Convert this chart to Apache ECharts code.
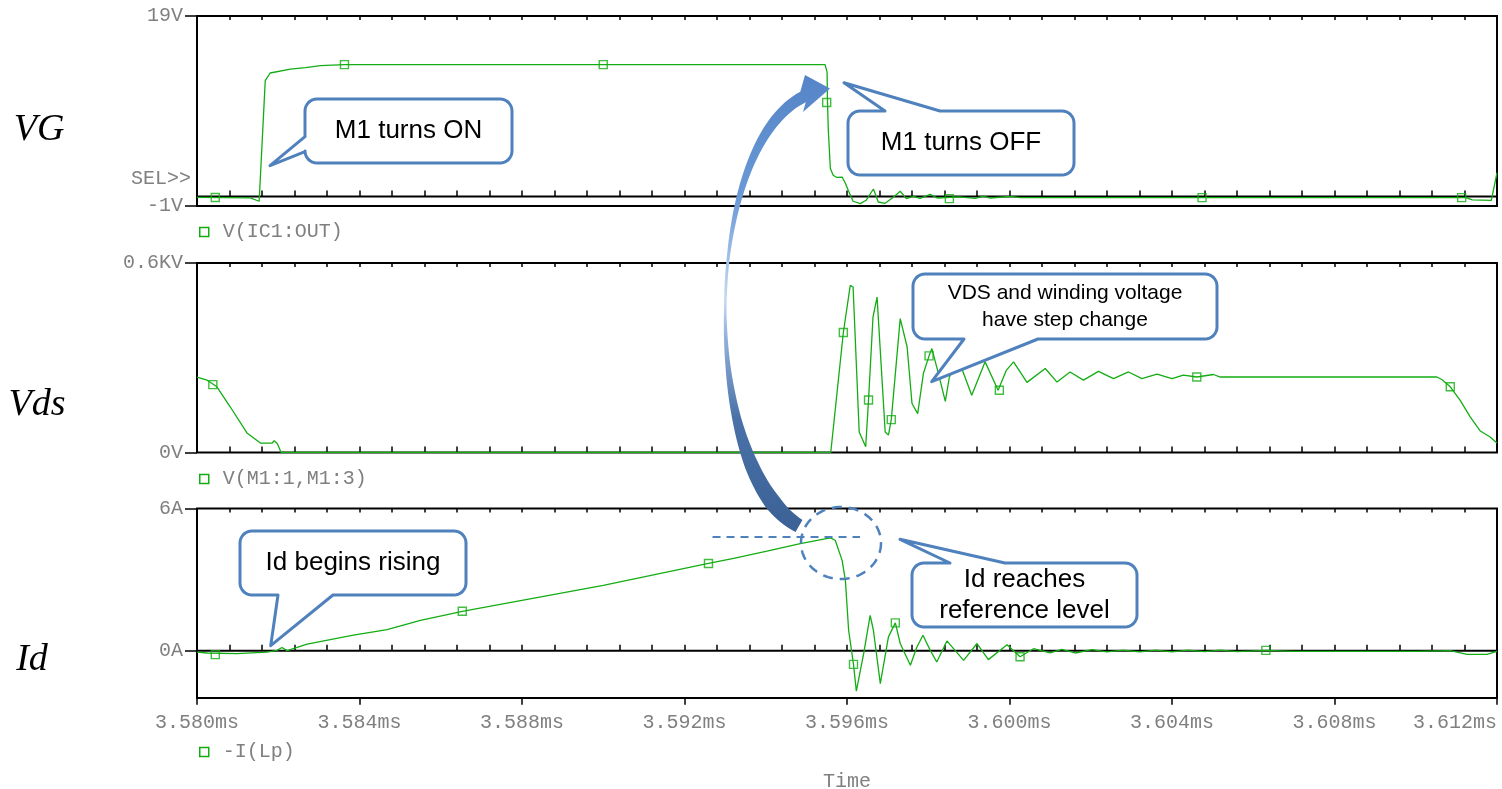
<!DOCTYPE html>
<html>
<head>
<meta charset="utf-8">
<script src="https://cdn.jsdelivr.net/npm/echarts@6/dist/echarts.min.js"></script>
<style>
  html, body { margin: 0; padding: 0; background: #fff; }
  #chart { width: 1502px; height: 789px; }
</style>
</head>
<body>
<div id="chart"></div>
<script>
// Time values are in microseconds; axis labels show them as ms.
const timeMin = 3580;
const timeMax = 3612;
const timeStep = 4;

const traceNames = ['V(IC1:OUT)', 'V(M1:1,M1:3)', '-I(Lp)'];
const panelNames = ['VG', 'Vds', 'Id'];

const vgTicks = [-1, 19];
const vdsTicks = [0, 600];
const idTicks = [0, 6];

// Gate voltage, V
const vgWave = [
  [3580.00,-0.10],[3581.31,-0.15],[3581.53,-0.50],[3581.68,12.2],[3581.80,13.0],[3582.30,13.4],
  [3582.67,13.57],[3583.04,13.78],[3583.63,13.88],[3595.46,13.88],[3595.51,13.1],[3595.52,9.9],
  [3595.54,7.0],[3595.59,2.94],[3595.66,2.23],[3595.74,2.02],[3595.88,2.05],[3595.96,1.39],
  [3596.03,0.65],[3596.15,-0.50],[3596.33,-0.75],[3596.47,-0.40],[3596.65,0.79],[3596.77,-0.58],
  [3596.94,-0.72],[3597.14,-0.08],[3597.31,0.55],[3597.46,-0.22],[3597.63,0.02],[3597.80,-0.19],
  [3598.05,0.23],[3598.22,-0.16],[3598.75,-0.05],[3599.16,-0.19],[3599.35,0.05],[3599.53,-0.16],
  [3600.02,0.02],[3600.26,-0.12],[3611.24,-0.12],[3611.39,-0.35],[3611.86,-0.40],[3612.00,2.5]
];
const vgMarks = [
  [3580.45,-0.10],[3583.63,13.88],[3590.00,13.88],[3595.50,9.9],[3598.52,-0.22],[3604.74,-0.12],[3611.13,-0.12]
];

// Drain-source voltage, V
const vdsWave = [
  [3580.00,239],[3580.25,229],[3580.49,208],[3580.82,144],[3581.23,62],[3581.56,30],[3581.85,30],
  [3581.90,37],[3581.98,28],[3582.07,0],[3595.60,0],[3595.91,380],[3596.08,529],[3596.15,524],
  [3596.30,65],[3596.46,18],[3596.53,166],[3596.64,429],[3596.74,492],[3596.94,65],[3597.02,55],
  [3597.09,104],[3597.31,424],[3597.48,334],[3597.60,155],[3597.74,123],[3597.88,250],[3598.02,306],
  [3598.09,329],[3598.25,250],[3598.42,162],[3598.52,239],[3598.75,292],[3599.07,181],[3599.40,287],
  [3599.72,197],[3599.92,260],[3600.10,287],[3600.43,222],[3600.88,266],[3601.17,223],[3601.49,255],
  [3601.82,229],[3602.19,257],[3602.56,234],[3602.93,255],[3603.26,234],[3603.63,248],[3604.00,234],
  [3604.28,245],[3604.61,239],[3605.02,247],[3605.19,239],[3610.52,239],[3610.64,231],[3610.85,208],
  [3611.09,166],[3611.34,113],[3611.59,68],[3611.83,49],[3612.00,30]
];
const vdsMarks = [
  [3580.39,215],[3595.91,380],[3596.53,166],[3597.09,104],[3598.02,306],[3599.75,197],[3604.61,239],[3610.85,208]
];

// Drain current, A
const idWave = [
  [3580.00,-0.06],[3580.25,-0.10],[3580.98,-0.13],[3581.72,-0.06],[3581.97,0.01],[3582.09,0.13],
  [3582.22,0.00],[3582.71,0.27],[3583.12,0.41],[3583.85,0.65],[3584.68,0.89],[3585.50,1.28],
  [3586.53,1.66],[3590.00,2.75],[3592.59,3.68],[3593.21,3.89],[3594.03,4.20],[3594.85,4.52],
  [3595.59,4.76],[3595.71,4.66],[3595.88,3.81],[3595.96,2.97],[3596.04,0.86],[3596.16,-0.58],
  [3596.23,-1.71],[3596.41,-0.13],[3596.57,1.49],[3596.65,0.86],[3596.82,-1.39],[3597.02,0.58],
  [3597.19,1.17],[3597.31,0.30],[3597.56,-0.62],[3597.72,0.15],[3597.87,0.65],[3598.05,0.01],
  [3598.21,-0.48],[3598.46,0.41],[3598.87,-0.41],[3599.20,0.30],[3599.48,-0.38],[3599.94,0.25],
  [3600.26,-0.26],[3600.59,0.08],[3601.00,-0.10],[3601.29,0.05],[3601.62,-0.10],[3602.03,0.04],
  [3602.40,-0.05],[3602.80,0.02],[3603.20,-0.05],[3603.60,0.02],[3604.00,-0.05],[3604.40,0.02],
  [3604.80,-0.04],[3605.20,0.02],[3605.60,-0.04],[3606.31,0.01],[3607.00,-0.03],[3608.00,-0.03],
  [3609.00,-0.03],[3610.00,-0.03],[3610.85,0.00],[3611.26,-0.16],[3611.75,-0.16],[3612.00,-0.03]
];
const idMarks = [
  [3580.45,-0.17],[3586.53,1.66],[3592.59,3.68],[3596.16,-0.58],[3597.19,1.17],[3600.26,-0.26],[3606.31,0.01]
];

// Reference current level and the span of its dashed guide
const idRefLevel = 4.8;
const idRefSpan = [3592.69, 3596.32];

// ---- styling ----
const GREEN = '#13ad13';
const BLUE = '#4f81bd';
const MONO = '"Liberation Mono", "DejaVu Sans Mono", monospace';
const SANS = '"Liberation Sans", Arial, sans-serif';
const AXIS_GRAY = '#808080';

const chart = echarts.init(document.getElementById('chart'), null, { renderer: 'canvas' });

const tickLine = { color: '#000', width: 1.5 };

function timeAxis(gridIndex, position, extra) {
  return Object.assign({
    type: 'value', gridIndex: gridIndex, position: position,
    min: timeMin, max: timeMax, interval: timeStep,
    axisLine: { show: false },
    splitLine: { show: false },
    axisTick: { show: true, inside: true, length: position === 'top' ? 4 : 6, lineStyle: tickLine },
    minorTick: { show: true, splitNumber: 5, length: position === 'top' ? 4 : 6, lineStyle: tickLine },
    axisLabel: { show: false }
  }, extra || {});
}

function levelAxis(gridIndex, min, max, ticks, fmt) {
  return {
    type: 'value', gridIndex: gridIndex, min: min, max: max,
    axisLine: { show: false },
    splitLine: { show: false },
    axisTick: { show: true, customValues: ticks, length: 12, lineStyle: tickLine },
    axisLabel: {
      show: true, customValues: ticks, formatter: fmt, margin: 14,
      fontFamily: MONO, fontSize: 20, color: AXIS_GRAY
    }
  };
}

const gridBox = { show: true, borderColor: '#000', borderWidth: 2, left: 197, right: 5 };

function traceSeries(name, axisIdx, data) {
  return {
    name: name, type: 'line', xAxisIndex: axisIdx, yAxisIndex: axisIdx / 2,
    data: data, showSymbol: false, symbol: 'none', silent: true, z: 3,
    lineStyle: { color: GREEN, width: 1.3 }, itemStyle: { color: GREEN }
  };
}
function markerSeries(name, axisIdx, data) {
  return {
    name: name, type: 'scatter', xAxisIndex: axisIdx, yAxisIndex: axisIdx / 2,
    data: data, symbol: 'rect', symbolSize: 8, silent: true, z: 4,
    itemStyle: { color: 'rgba(255,255,255,0)', borderColor: GREEN, borderWidth: 1.4 }
  };
}
function zeroLine(axisIdx) {
  return {
    type: 'line', xAxisIndex: axisIdx, yAxisIndex: axisIdx / 2,
    data: [[timeMin, 0], [timeMax, 0]], showSymbol: false, symbol: 'none', silent: true, z: 2,
    lineStyle: { color: '#000', width: 2 }
  };
}

// ---- annotation shapes (as point lists) ----
function arcPts(cx, cy, r, a0, a1) {
  const out = [];
  const n = 8;
  for (let i = 0; i <= n; i++) {
    const a = a0 + (a1 - a0) * i / n;
    out.push([cx + r * Math.cos(a), cy + r * Math.sin(a)]);
  }
  return out;
}
function calloutPoints(b, tail) {
  const x = b.x, y = b.y, w = b.w, h = b.h, r = b.r;
  const P = Math.PI;
  let pts = [];
  pts = pts.concat(arcPts(x + r, y + r, r, P, 1.5 * P));             // top-left corner
  if (tail.edge === 'top') pts.push([tail.a, y], tail.tip, [tail.b, y]);
  pts = pts.concat(arcPts(x + w - r, y + r, r, 1.5 * P, 2 * P));     // top-right
  pts = pts.concat(arcPts(x + w - r, y + h - r, r, 0, 0.5 * P));     // bottom-right
  if (tail.edge === 'bottom') pts.push([tail.b, y + h], tail.tip, [tail.a, y + h]);
  pts = pts.concat(arcPts(x + r, y + h - r, r, 0.5 * P, P));         // bottom-left
  if (tail.edge === 'left') pts.push([x, tail.b], tail.tip, [x, tail.a]);
  return pts;
}

const callouts = [
  { box: { x: 305, y: 99, w: 207, h: 64, r: 12 }, tail: { edge: 'left', a: 136.7, b: 151.7, tip: [270, 165.7] },
    text: 'M1 turns ON', size: 26, lh: 31 },
  { box: { x: 848, y: 111, w: 226, h: 64, r: 12 }, tail: { edge: 'top', a: 885, b: 940, tip: [844, 82.7] },
    text: 'M1 turns OFF', size: 26, lh: 31 },
  { box: { x: 913, y: 274, w: 304, h: 65, r: 12 }, tail: { edge: 'bottom', a: 964, b: 1038, tip: [931.7, 381.7] },
    text: 'VDS and winding voltage\nhave step change', size: 21, lh: 27 },
  { box: { x: 240, y: 531, w: 226, h: 64, r: 12 }, tail: { edge: 'bottom', a: 278, b: 333, tip: [270.7, 645.7] },
    text: 'Id begins rising', size: 26, lh: 31 },
  { box: { x: 912, y: 563, w: 225, h: 64, r: 12 }, tail: { edge: 'top', a: 950, b: 1005, tip: [900, 539.3] },
    text: 'Id reaches\nreference level', size: 26, lh: 31 }
];

// Curved arrow linking the current peak to the gate turn-off edge
function curvedArrowPoints() {
  const P0 = [799, 526], P1 = [700, 470], P2 = [700, 150], P3 = [803, 97];
  const widths = [[0, 14], [0.1, 17], [0.2, 14], [0.3, 9], [0.4, 5], [0.5, 2.5], [0.6, 3], [0.7, 5.5], [0.8, 8], [0.9, 10.5], [1, 12]];
  function wAt(t) {
    for (let i = 1; i < widths.length; i++) {
      if (t <= widths[i][0]) {
        const a = widths[i - 1], b = widths[i];
        return a[1] + (b[1] - a[1]) * (t - a[0]) / (b[0] - a[0]);
      }
    }
    return widths[widths.length - 1][1];
  }
  const outer = [], inner = [];
  const N = 80;
  for (let k = 0; k <= N; k++) {
    const t = k / N, u = 1 - t;
    const bx = u*u*u*P0[0] + 3*u*u*t*P1[0] + 3*u*t*t*P2[0] + t*t*t*P3[0];
    const by = u*u*u*P0[1] + 3*u*u*t*P1[1] + 3*u*t*t*P2[1] + t*t*t*P3[1];
    const dx = 3*(u*u*(P1[0]-P0[0]) + 2*u*t*(P2[0]-P1[0]) + t*t*(P3[0]-P2[0]));
    const dy = 3*(u*u*(P1[1]-P0[1]) + 2*u*t*(P2[1]-P1[1]) + t*t*(P3[1]-P2[1]));
    const len = Math.hypot(dx, dy);
    const nx = -dy / len, ny = dx / len;
    const hw = wAt(t) / 2;
    inner.push([bx + nx * hw, by + ny * hw]);
    outer.push([bx - nx * hw, by - ny * hw]);
  }
  const head = [[805, 75], [830, 88.5], [803, 112]];
  return outer.concat(head, inner.reverse());
}

function ellipsePoints(cx, cy, rx, ry) {
  const out = [];
  for (let i = 0; i < 96; i++) {
    const a = 2 * Math.PI * i / 96;
    out.push([cx + rx * Math.cos(a), cy + ry * Math.sin(a)]);
  }
  return out;
}

const graphics = [];
// trace panel titles
[['VG', 39, 130], ['Vds', 37, 405], ['Id', 32, 660]].forEach(function (g) {
  graphics.push({ type: 'text', x: g[1], y: g[2], z: 50,
    style: { text: g[0], fill: '#000', font: 'italic 38px "Liberation Serif", "Times New Roman", serif',
             align: 'center', verticalAlign: 'middle' } });
});
graphics.push({ type: 'text', x: 191, y: 179, z: 50,
  style: { text: 'SEL>>', fill: AXIS_GRAY, font: '20px ' + MONO, align: 'right', verticalAlign: 'middle' } });

graphics.push({ type: 'polygon', z: 60, shape: { points: curvedArrowPoints() },
  style: { fill: { type: 'linear', x: 0, y: 0, x2: 0, y2: 1, colorStops: [
    { offset: 0, color: '#5585c8' }, { offset: 0.27, color: '#6b99d6' }, { offset: 0.49, color: '#c6daf2' },
    { offset: 0.57, color: '#94b2dc' }, { offset: 0.75, color: '#4a72a8' }, { offset: 1, color: '#3b6196' }] },
    stroke: null } });

graphics.push({ type: 'polygon', z: 60, shape: { points: ellipsePoints(841, 543, 40, 36) },
  style: { fill: null, stroke: BLUE, lineWidth: 2.5, lineDash: [10, 7] } });

callouts.forEach(function (c) {
  graphics.push({ type: 'polygon', z: 70, shape: { points: calloutPoints(c.box, c.tail) },
    style: { fill: '#fff', stroke: BLUE, lineWidth: 3, lineJoin: 'round' } });
  graphics.push({ type: 'text', z: 71, x: c.box.x + c.box.w / 2, y: c.box.y + c.box.h / 2,
    style: { text: c.text, fill: '#000', font: c.size + 'px ' + SANS, lineHeight: c.lh,
             align: 'center', verticalAlign: 'middle' } });
});

const legendTops = [222, 469, 742];

const option = {
  animation: false,
  backgroundColor: '#fff',
  grid: [
    Object.assign({ top: 16, height: 190 }, gridBox),
    Object.assign({ top: 263, height: 189.5 }, gridBox),
    Object.assign({ top: 508.5, height: 189.5 }, gridBox),
    { left: 197, right: 5, top: 697.5, height: 1, show: false }
  ],
  xAxis: [
    timeAxis(0, 'bottom'), timeAxis(0, 'top'),
    timeAxis(1, 'bottom'), timeAxis(1, 'top'),
    timeAxis(2, 'bottom'), timeAxis(2, 'top'),
    timeAxis(3, 'bottom', {
      axisTick: { show: true, inside: false, length: 7, lineStyle: tickLine },
      minorTick: { show: false },
      axisLabel: {
        show: true, margin: 15, fontFamily: MONO, fontSize: 20, color: AXIS_GRAY,
        alignMaxLabel: 'right',
        formatter: function (v) { return (v / 1000).toFixed(3) + 'ms'; }
      },
      name: 'Time', nameLocation: 'middle', nameGap: 74,
      nameTextStyle: { fontFamily: MONO, fontSize: 20, color: AXIS_GRAY }
    })
  ],
  yAxis: [
    levelAxis(0, -1, 19, vgTicks, function (v) { return v + 'V'; }),
    levelAxis(1, 0, 600, vdsTicks, function (v) { return v === 0 ? '0V' : (v / 1000) + 'KV'; }),
    levelAxis(2, -2, 6, idTicks, function (v) { return v + 'A'; }),
    { type: 'value', gridIndex: 3, show: false, min: 0, max: 1 }
  ],
  legend: traceNames.map(function (n, i) {
    return {
      data: [n], left: 199, top: legendTops[i], padding: 0, selectedMode: false,
      icon: 'rect', itemWidth: 9, itemHeight: 9, itemGap: 0,
      itemStyle: { color: 'rgba(255,255,255,0)', borderColor: GREEN, borderWidth: 1.5 },
      formatter: function (name) { return ' ' + name; },
      textStyle: { fontFamily: MONO, fontSize: 20, color: AXIS_GRAY, padding: [0, 0, 0, -3] }
    };
  }),
  series: [
    zeroLine(0),
    traceSeries(traceNames[0], 0, vgWave),
    markerSeries(traceNames[0], 0, vgMarks),
    traceSeries(traceNames[1], 2, vdsWave),
    markerSeries(traceNames[1], 2, vdsMarks),
    zeroLine(4),
    Object.assign(traceSeries(traceNames[2], 4, idWave), {
      markLine: {
        silent: true, symbol: 'none', label: { show: false },
        lineStyle: { color: BLUE, type: [8, 6], width: 2 },
        data: [[{ coord: [idRefSpan[0], idRefLevel] }, { coord: [idRefSpan[1], idRefLevel] }]]
      }
    }),
    markerSeries(traceNames[2], 4, idMarks)
  ],
  graphic: { elements: graphics }
};

chart.setOption(option);
</script>
</body>
</html>
